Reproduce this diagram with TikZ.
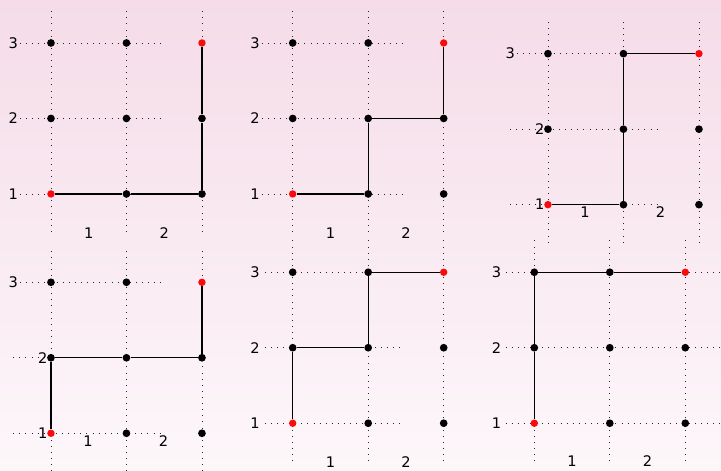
\documentclass[tikz,border=0pt]{standalone}
\usepackage{fontspec}
\setsansfont{DejaVu Sans}
\usepackage{tikz}
\usetikzlibrary{positioning,backgrounds}
\definecolor{bgtop}{RGB}{245,220,232}
\definecolor{bgbottom}{RGB}{253,247,250}
\definecolor{endred}{RGB}{250,10,10}

% the nine lattice points of one panel
\newcommand{\latticepoints}{%
  \foreach \c/\r in {2/1,3/1,1/2,2/2,3/2,1/3,2/3}
    \node[gridpt] (p\c\r) at (\c,\r) {};
  \foreach \c/\r in {1/1,3/3}
    \node[endpt] (p\c\r) at (\c,\r) {};
}

\begin{document}
\begin{tikzpicture}[x=2cm, y=2cm,
    gridline/.style={loosely dotted, line width=0.6pt, black!85},
    gridpt/.style={circle, fill=black, inner sep=0pt, minimum size=5.8pt},
    endpt/.style={circle, fill=endred, inner sep=0pt, minimum size=5.6pt},
    route/.style={line width=0.9pt, black},
    lab/.style={font=\sffamily\fontsize{11}{13}\selectfont, inner sep=0pt}
  ]
    % Background
    \shade[top color=bgtop, bottom color=bgbottom] (0,0) rectangle (9.550,6.238);
    \useasboundingbox (0,0) rectangle (9.550,6.238);

    % Panel 1: right, right, up, up
    \begin{scope}[shift={(-0.325,2.669)}, name prefix=a-]
      \foreach \c in {1,2,3} \draw[gridline] (\c,0.5) -- (\c,3.48);
      \foreach \r in {1,2,3} \draw[gridline] (0.59,\r) -- (2.47,\r);
      \foreach \r in {1,2,3} \node[lab] at (0.5,\r) {\r};
      \node[lab] at (1.5,0.48) {1};
      \node[lab] at (2.5,0.48) {2};
      \latticepoints
      \draw[route] (p11) -- (p21) -- (p31) -- (p32) -- (p33);
    \end{scope}

    % Panel 2: right, up, right, up
    \begin{scope}[shift={(2.877,2.669)}, name prefix=b-]
      \foreach \c in {1,2,3} \draw[gridline] (\c,0.5) -- (\c,3.48);
      \foreach \r in {1,2,3} \draw[gridline] (0.59,\r) -- (2.47,\r);
      \foreach \r in {1,2,3} \node[lab] at (0.5,\r) {\r};
      \node[lab] at (1.5,0.48) {1};
      \node[lab] at (2.5,0.48) {2};
      \latticepoints
      \draw[route] (p11) -- (p21) -- (p22) -- (p32) -- (p33);
    \end{scope}

    % Panel 3: right, up, up, right
    \begin{scope}[shift={(6.258,2.527)}, name prefix=c-]
      \foreach \c in {1,2,3} \draw[gridline] (\c,0.5) -- (\c,3.47);
      \draw[gridline] (0.59,3) -- (2.47,3);
      \foreach \r in {1,2} \draw[gridline] (0.5,\r) -- (2.46,\r);
      \node[lab] at (0.5,3) {3};
      \foreach \r in {1,2} \node[lab] at (0.89,\r) {\r};
      \node[lab] at (1.49,0.9) {1};
      \node[lab] at (2.49,0.9) {2};
      \latticepoints
      \draw[route] (p11) -- (p21) -- (p22) -- (p23) -- (p33);
    \end{scope}

    % Panel 4: up, right, right, up
    \begin{scope}[shift={(-0.325,-0.501)}, name prefix=d-]
      \foreach \c in {1,2,3} \draw[gridline] (\c,0.5) -- (\c,3.47);
      \draw[gridline] (0.59,3) -- (2.47,3);
      \foreach \r in {1,2} \draw[gridline] (0.5,\r) -- (2.47,\r);
      \node[lab] at (0.5,3) {3};
      \foreach \r in {1,2} \node[lab] at (0.89,\r) {\r};
      \node[lab] at (1.49,0.89) {1};
      \node[lab] at (2.49,0.89) {2};
      \latticepoints
      \draw[route] (p11) -- (p12) -- (p22) -- (p32) -- (p33);
    \end{scope}

    % Panel 5: up, right, up, right
    \begin{scope}[shift={(2.877,-0.368)}, name prefix=e-]
      \foreach \c in {1,2,3} \draw[gridline] (\c,0.5) -- (\c,3.45);
      \foreach \r in {1,2,3} \draw[gridline] (0.63,\r) -- (2.46,\r);
      \foreach \r in {1,2,3} \node[lab] at (0.5,\r) {\r};
      \node[lab] at (1.5,0.49) {1};
      \node[lab] at (2.5,0.49) {2};
      \latticepoints
      \draw[route] (p11) -- (p12) -- (p22) -- (p23) -- (p33);
    \end{scope}

    % Panel 6: up, up, right, right
    \begin{scope}[shift={(6.077,-0.368)}, name prefix=f-]
      \foreach \c in {1,2,3} \draw[gridline] (\c,0.5) -- (\c,3.48);
      \foreach \r in {1,2,3} \draw[gridline] (0.62,\r) -- (3.47,\r);
      \foreach \r in {1,2,3} \node[lab] at (0.5,\r) {\r};
      \node[lab] at (1.5,0.5) {1};
      \node[lab] at (2.5,0.5) {2};
      \latticepoints
      \draw[route] (p11) -- (p12) -- (p13) -- (p23) -- (p33);
    \end{scope}
  \end{tikzpicture}
\end{document}
